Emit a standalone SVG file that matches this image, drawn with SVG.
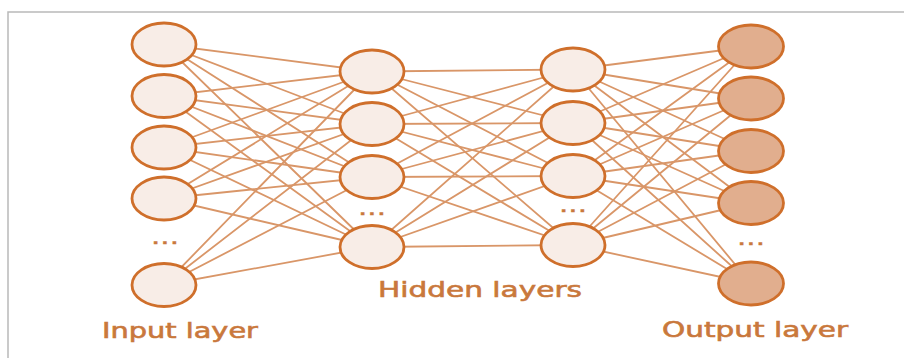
<svg xmlns="http://www.w3.org/2000/svg" width="904" height="358" viewBox="0 0 904 358">
  <style>
    .frame { fill: none; stroke: #b9b9b9; stroke-width: 1.5; }
    .edge { stroke: #d99668; stroke-width: 1.8; fill: none; }
    .node { stroke: #cf6f2b; stroke-width: 2.8; }
    .in { fill: #f8ede7; }
    .out { fill: #e1ae8e; }
    .lbl { font-family: "DejaVu Sans", "Liberation Sans", sans-serif; font-size: 21px; fill: #c9783c; stroke: #c9783c; stroke-width: 0.6; }
    .dots { font-family: "DejaVu Sans", "Liberation Sans", sans-serif; font-size: 21px; fill: #c9783c; stroke: #c9783c; stroke-width: 0.4; text-anchor: middle; }
  </style>

  <rect width="904" height="358" fill="#ffffff"/>
  <path class="frame" d="M8,358 V12 H904"/>

  <!-- all-to-all weights between consecutive layers -->
  <g id="connectors" class="edge">
    <!-- input -> hidden 1 -->
    <path d="M164,44.5 L372,71.5 M164,44.5 L372,124 M164,44.5 L372,177 M164,44.5 L372,247"/>
    <path d="M164,96 L372,71.5 M164,96 L372,124 M164,96 L372,177 M164,96 L372,247"/>
    <path d="M164,147.5 L372,71.5 M164,147.5 L372,124 M164,147.5 L372,177 M164,147.5 L372,247"/>
    <path d="M164,198.5 L372,71.5 M164,198.5 L372,124 M164,198.5 L372,177 M164,198.5 L372,247"/>
    <path d="M164,285 L372,71.5 M164,285 L372,124 M164,285 L372,177 M164,285 L372,247"/>
    <!-- hidden 1 -> hidden 2 -->
    <path d="M372,71.5 L573,69.5 M372,71.5 L573,123 M372,71.5 L573,176 M372,71.5 L573,245"/>
    <path d="M372,124 L573,69.5 M372,124 L573,123 M372,124 L573,176 M372,124 L573,245"/>
    <path d="M372,177 L573,69.5 M372,177 L573,123 M372,177 L573,176 M372,177 L573,245"/>
    <path d="M372,247 L573,69.5 M372,247 L573,123 M372,247 L573,176 M372,247 L573,245"/>
    <!-- hidden 2 -> output -->
    <path d="M573,69.5 L751,46.5 M573,69.5 L751,98.5 M573,69.5 L751,151 M573,69.5 L751,203 M573,69.5 L751,283.5"/>
    <path d="M573,123 L751,46.5 M573,123 L751,98.5 M573,123 L751,151 M573,123 L751,203 M573,123 L751,283.5"/>
    <path d="M573,176 L751,46.5 M573,176 L751,98.5 M573,176 L751,151 M573,176 L751,203 M573,176 L751,283.5"/>
    <path d="M573,245 L751,46.5 M573,245 L751,98.5 M573,245 L751,151 M573,245 L751,203 M573,245 L751,283.5"/>
  </g>

  <!-- input layer -->
  <g id="input-layer">
    <ellipse id="in1" class="node in" cx="164" cy="44.5" rx="32" ry="21.5"/>
    <ellipse id="in2" class="node in" cx="164" cy="96" rx="32" ry="21.5"/>
    <ellipse id="in3" class="node in" cx="164" cy="147.5" rx="32" ry="21.5"/>
    <ellipse id="in4" class="node in" cx="164" cy="198.5" rx="32" ry="21.5"/>
    <text class="dots" transform="translate(165,244) scale(1.4,1)">...</text>
    <ellipse id="in5" class="node in" cx="164" cy="285" rx="32" ry="21.5"/>
    <text class="lbl" transform="translate(102,338) scale(1.4,1)" textLength="111.4" lengthAdjust="spacingAndGlyphs">Input layer</text>
  </g>

  <!-- first hidden layer -->
  <g id="hidden-layer-1">
    <ellipse id="h1a" class="node in" cx="372" cy="71.5" rx="32" ry="21.5"/>
    <ellipse id="h1b" class="node in" cx="372" cy="124" rx="32" ry="21.5"/>
    <ellipse id="h1c" class="node in" cx="372" cy="177" rx="32" ry="21.5"/>
    <text class="dots" transform="translate(372,215) scale(1.4,1)">...</text>
    <ellipse id="h1d" class="node in" cx="372" cy="247" rx="32" ry="21.5"/>
  </g>

  <!-- second hidden layer -->
  <g id="hidden-layer-2">
    <ellipse id="h2a" class="node in" cx="573" cy="69.5" rx="32" ry="21.5"/>
    <ellipse id="h2b" class="node in" cx="573" cy="123" rx="32" ry="21.5"/>
    <ellipse id="h2c" class="node in" cx="573" cy="176" rx="32" ry="21.5"/>
    <text class="dots" transform="translate(573,212) scale(1.4,1)">...</text>
    <ellipse id="h2d" class="node in" cx="573" cy="245" rx="32" ry="21.5"/>
  </g>

  <g id="hidden-label">
    <text class="lbl" transform="translate(378,297) scale(1.4,1)" textLength="145.7" lengthAdjust="spacingAndGlyphs">Hidden layers</text>
  </g>

  <!-- output layer -->
  <g id="output-layer">
    <ellipse id="o1" class="node out" cx="751" cy="46.5" rx="32.5" ry="21.5"/>
    <ellipse id="o2" class="node out" cx="751" cy="98.5" rx="32.5" ry="21.5"/>
    <ellipse id="o3" class="node out" cx="751" cy="151" rx="32.5" ry="21.5"/>
    <ellipse id="o4" class="node out" cx="751" cy="203" rx="32.5" ry="21.5"/>
    <text class="dots" transform="translate(751,245) scale(1.4,1)">...</text>
    <ellipse id="o5" class="node out" cx="751" cy="283.5" rx="32.5" ry="21.5"/>
    <text class="lbl" transform="translate(662,337) scale(1.4,1)" textLength="132.9" lengthAdjust="spacingAndGlyphs">Output layer</text>
  </g>
</svg>
